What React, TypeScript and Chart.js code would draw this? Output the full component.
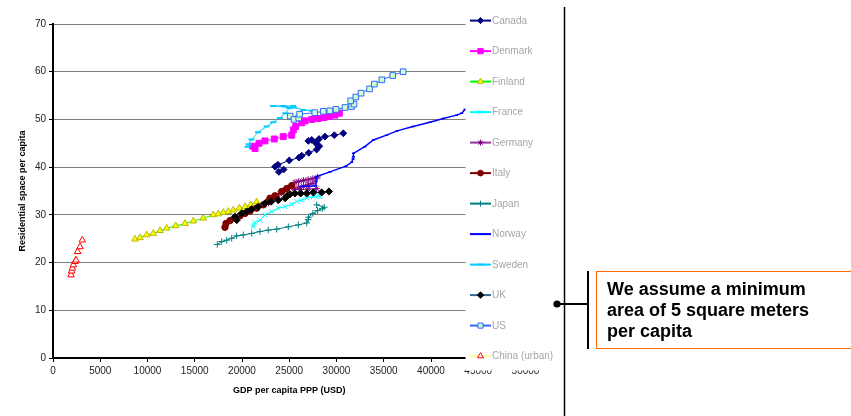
import React, { useEffect, useRef } from 'react';
import { Chart, registerables } from 'chart.js';
import { drawPoint } from 'chart.js/helpers';
Chart.register(...registerables);

// ---------- data ----------
const countries = ['Canada', 'Denmark', 'Finland', 'France', 'Germany', 'Italy', 'Japan', 'Norway', 'Sweden', 'UK', 'US', 'China (urban)'];

const canada: number[][] = [[23500, 40.1], [23900, 39.0], [24400, 39.5], [23800, 40.5], [25000, 41.4], [26030, 42.0], [26320, 42.4], [27060, 43.0], [27900, 43.7], [28180, 44.4], [27830, 45.0], [27020, 45.5], [27380, 45.7], [28150, 45.9], [28780, 46.4], [29770, 46.7], [30720, 47.1]];
const denmark: number[][] = [[21380, 43.9], [21130, 44.4], [21800, 45.0], [22430, 45.5], [23420, 45.9], [24370, 46.4], [25260, 46.7], [25430, 47.8], [25680, 48.5], [26320, 49.3], [26670, 49.7], [27380, 50.0], [28070, 50.2], [28680, 50.4], [29240, 50.6], [29840, 50.9], [30300, 51.3]];
const finland: number[][] = [[8680, 24.9], [9210, 25.2], [9910, 25.8], [10610, 26.1], [11320, 26.7], [12030, 27.2], [12980, 27.7], [13970, 28.2], [14850, 28.7], [15900, 29.3], [16960, 30.0], [17490, 30.2], [18020, 30.5], [18550, 30.7], [19080, 31.0], [19710, 31.4], [20320, 31.7], [20920, 32.1], [21550, 32.7]];
const france: number[][] = [[21200, 27.5], [21250, 28.0], [21380, 28.4], [21900, 28.9], [22430, 30.0], [23140, 30.7], [23840, 31.4], [24550, 31.7], [25260, 32.2], [25790, 32.8], [26320, 33.1], [26850, 33.5], [27550, 33.8], [28070, 34.0], [28250, 33.8]];
const germany: number[][] = [[22800, 32.5], [23200, 33.2], [23600, 33.8], [24000, 34.4], [24400, 35.0], [24800, 35.6], [25200, 36.2], [25600, 36.8], [26000, 37.0], [26500, 37.2], [27000, 37.4], [27500, 37.6], [28000, 37.9], [27500, 36.6], [27000, 36.4], [26500, 36.0], [26000, 35.8], [25500, 35.4], [26200, 35.3], [27000, 35.4], [27900, 35.5]];
const italy: number[][] = [[18200, 27.4], [18310, 28.2], [18730, 28.8], [19260, 29.3], [19790, 29.8], [20320, 30.3], [20850, 30.8], [21550, 31.4], [22260, 32.1], [22780, 32.8], [22960, 33.5], [23490, 34.0], [24200, 34.9], [24730, 35.5], [25260, 36.1]];
const japan: number[][] = [[17390, 23.8], [17850, 24.4], [18380, 24.7], [18910, 25.1], [19440, 25.6], [20140, 25.8], [21030, 26.1], [21900, 26.5], [22780, 26.8], [23670, 27.0], [24900, 27.5], [25960, 27.9], [26850, 28.3], [27000, 29.0], [27050, 29.5], [27500, 30.3], [28000, 30.9], [28500, 31.3], [28700, 31.6], [27900, 32.1]];
const norway: number[][] = [[26300, 36.0], [27000, 36.0], [27800, 36.1], [27850, 37.0], [27830, 38.0], [29300, 39.0], [31000, 40.2], [31600, 41.0], [31750, 41.7], [31780, 42.2], [31800, 42.9], [33000, 44.3], [33900, 45.7], [35300, 46.7], [36400, 47.6], [38100, 48.5], [39900, 49.4], [41300, 50.2], [42700, 50.9], [43250, 51.3], [43600, 52.1], [44300, 52.8]];
const sweden: number[][] = [[20600, 44.3], [20700, 44.8], [21000, 45.8], [21700, 47.3], [22600, 48.5], [23300, 49.4], [24000, 50.3], [24600, 51.3], [25000, 52.4], [25400, 52.8], [24300, 52.8], [23300, 52.8], [24500, 52.7], [25500, 52.5], [26500, 52.0], [27400, 51.8]];
const uk: number[][] = [[19440, 28.9], [19260, 29.6], [19970, 30.3], [20500, 30.7], [21030, 31.2], [21730, 31.7], [22430, 32.4], [23100, 32.8], [23840, 33.1], [24550, 33.5], [24800, 34.0], [25080, 34.3], [25610, 34.5], [26210, 34.5], [26850, 34.5], [27550, 34.7], [28430, 34.7], [29200, 34.9]];
const us: number[][] = [[25100, 50.7], [25500, 50.0], [26000, 50.3], [26100, 51.1], [27700, 51.4], [28600, 51.7], [29300, 51.8], [29950, 52.1], [30900, 52.5], [31600, 52.7], [31850, 53.2], [31500, 53.9], [32050, 54.7], [32600, 55.5], [33500, 56.4], [34000, 57.4], [34800, 58.3], [35950, 59.2], [37050, 60.0]];
const china: number[][] = [[1905, 17.4], [1975, 18.2], [2045, 18.8], [2150, 19.5], [2330, 20.2], [2430, 20.5], [2610, 22.3], [2860, 23.3], [3100, 24.7]];

const seriesData = [canada, denmark, finland, france, germany, italy, japan, norway, sweden, uk, us, china];

const xTicks = [0, 5000, 10000, 15000, 20000, 25000, 30000, 35000, 40000, 45000, 50000];
const yTicks = [0, 10, 20, 30, 40, 50, 60, 70];

const xTitle = 'GDP per capita PPP (USD)';
const yTitle = 'Residential space per capita';
const noteLines = ['We assume a minimum', 'area of 5 square meters', 'per capita'];

// ---------- styles ----------
const styles = [
  { line: '#000080', bg: '#000080', border: '#000080', pt: 'rectRot', r: 3.4, bw: 1 },
  { line: '#FF00FF', bg: '#FF00FF', border: '#FF00FF', pt: 'rect', r: 4.2, bw: 1 },
  { line: '#00FF00', bg: '#FFFF00', border: '#B8B800', pt: 'triangle', r: 3.8, bw: 1 },
  { line: '#00FFFF', bg: '#00FFFF', border: '#00FFFF', pt: 'crossRot', r: 3.3, bw: 1 },
  { line: '#993399', bg: '#800080', border: '#800080', pt: 'star', r: 3.3, bw: 1 },
  { line: '#800000', bg: '#800000', border: '#800000', pt: 'circle', r: 3.2, bw: 1 },
  { line: '#008080', bg: '#008080', border: '#008080', pt: 'cross', r: 3.3, bw: 1 },
  { line: '#0000FF', bg: '#0000FF', border: '#0000FF', pt: 'line', r: 1.5, bw: 1.5 },
  { line: '#00CCFF', bg: '#00CCFF', border: '#00CCFF', pt: 'line', r: 3, bw: 2 },
  { line: '#336699', bg: '#000000', border: '#000000', pt: 'rectRot', r: 3.6, bw: 1 },
  { line: '#3366FF', bg: '#CCFFCC', border: '#3366FF', pt: 'rect', r: 4.0, bw: 1 },
  { line: '#FFFF99', bg: '#FFFFFF', border: '#FF0000', pt: 'triangle', r: 3.8, bw: 1 },
];

const NARROW = '"Liberation Sans Narrow", "Arial Narrow", "Liberation Sans", Arial, sans-serif';
const SANS = '"Liberation Sans", Arial, sans-serif';

const extras = {
  id: 'extras',
  afterDraw(chart: any) {
    const ctx: CanvasRenderingContext2D = chart.ctx;
    const xs = chart.scales.x;
    ctx.save();
    // white legend area covering right part of plot
    const coverLeft = Math.round(xs.getPixelForValue(43700)) - 0.5;
    ctx.fillStyle = '#ffffff';
    ctx.fillRect(coverLeft, 0, 564 - coverLeft, 370.5);

    // legend
    countries.forEach((name, i) => {
      const s = styles[i];
      const y = 20.6 + i * 30.5;
      ctx.strokeStyle = s.line;
      ctx.lineWidth = 2;
      ctx.beginPath();
      ctx.moveTo(470, y);
      ctx.lineTo(491, y);
      ctx.stroke();
      ctx.fillStyle = s.bg;
      ctx.strokeStyle = s.border;
      ctx.lineWidth = s.bw;
      drawPoint(ctx, { pointStyle: s.pt as any, radius: s.r * 0.9, rotation: 0, borderWidth: s.bw }, 480.5, y);
      ctx.fillStyle = '#A6A6A6';
      ctx.font = '10px ' + SANS;
      ctx.textAlign = 'left';
      ctx.textBaseline = 'middle';
      ctx.fillText(name, 492, y + 0.5);
    });

    // axis titles
    ctx.fillStyle = '#000';
    ctx.font = 'bold 9px ' + SANS;
    ctx.textAlign = 'center';
    ctx.textBaseline = 'middle';
    ctx.fillText(xTitle, (chart.chartArea.left + chart.chartArea.right) / 2, 391);
    ctx.save();
    ctx.translate(23, (chart.chartArea.top + chart.chartArea.bottom) / 2);
    ctx.rotate(-Math.PI / 2);
    ctx.fillText(yTitle, 0, 0);
    ctx.restore();

    // vertical separator
    ctx.strokeStyle = '#000';
    ctx.lineWidth = 1.5;
    ctx.beginPath();
    ctx.moveTo(564.5, 7);
    ctx.lineTo(564.5, 416);
    ctx.stroke();

    // callout connector
    ctx.lineWidth = 2;
    ctx.beginPath();
    ctx.moveTo(557, 304);
    ctx.lineTo(588, 304);
    ctx.moveTo(588, 271);
    ctx.lineTo(588, 349);
    ctx.stroke();
    ctx.fillStyle = '#000';
    ctx.beginPath();
    ctx.arc(557, 304, 3.6, 0, Math.PI * 2);
    ctx.fill();

    // note box
    ctx.strokeStyle = '#FF6600';
    ctx.lineWidth = 1;
    ctx.strokeRect(596.5, 271.5, 300, 77);
    ctx.fillStyle = '#000';
    ctx.font = 'bold 18px ' + SANS;
    ctx.textAlign = 'left';
    ctx.textBaseline = 'alphabetic';
    noteLines.forEach((t, i) => ctx.fillText(t, 607, 295 + i * 21));
    ctx.restore();
  },
};

export default function App() {
  const ref = useRef<HTMLCanvasElement>(null);
  useEffect(() => {
    document.body.style.margin = '0';
    const datasets = countries.map((name, i) => {
      const s = styles[i];
      return {
        label: name,
        data: seriesData[i].map(([x, y]) => ({ x, y })),
        showLine: true,
        borderColor: s.line,
        borderWidth: i === 7 ? 1.5 : 1,
        backgroundColor: s.bg,
        pointStyle: s.pt,
        pointRadius: s.r,
        pointBackgroundColor: s.bg,
        pointBorderColor: s.border,
        pointBorderWidth: s.bw,
        tension: 0,
        order: -i,
      };
    });
    const chart = new Chart(ref.current!, {
      type: 'scatter',
      data: { datasets: datasets as any },
      plugins: [extras],
      options: {
        animation: false,
        responsive: false,
        devicePixelRatio: 1,
        layout: { padding: { left: 0, top: 24, right: 325.5, bottom: 0 } },
        plugins: { legend: { display: false }, tooltip: { enabled: false } },
        scales: {
          x: {
            type: 'linear',
            min: 0,
            max: 50000,
            afterFit: (s: any) => { s.height = 58; },
            afterBuildTicks: (s: any) => { s.ticks = xTicks.map((v) => ({ value: v })); },
            grid: { drawOnChartArea: false, drawTicks: true, tickLength: 4, tickColor: '#000' },
            border: { color: '#000', width: 2 },
            ticks: {
              autoSkip: false,
              maxRotation: 0,
              padding: 3,
              color: '#222',
              font: { family: NARROW, size: 10 },
              callback: (v: any) => String(v),
            },
          },
          y: {
            type: 'linear',
            min: 0,
            max: 70,
            afterFit: (s: any) => { s.width = 53; },
            afterBuildTicks: (s: any) => { s.ticks = yTicks.map((v) => ({ value: v })); },
            grid: { color: '#808080', lineWidth: 1, drawTicks: true, tickLength: 4, tickColor: '#000' },
            border: { color: '#000', width: 2 },
            ticks: {
              padding: 3,
              color: '#222',
              font: { family: NARROW, size: 10 },
              callback: (v: any) => String(v),
            },
          },
        },
      },
    });
    return () => chart.destroy();
  }, []);
  return (
    <div style={{ width: 851, height: 416, background: '#fff' }}>
      <canvas ref={ref} width={851} height={416} style={{ display: 'block' }} />
    </div>
  );
}
